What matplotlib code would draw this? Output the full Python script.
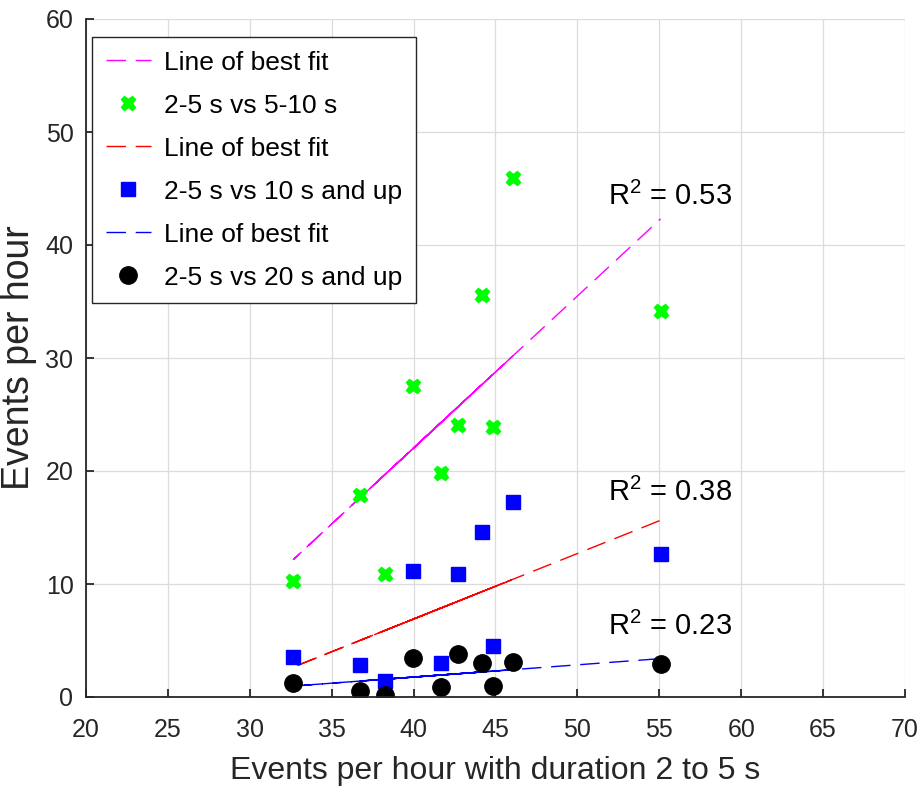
import matplotlib
matplotlib.use('Agg')
import matplotlib.pyplot as plt
import numpy as np

# events per hour, duration 2-5 s (shared x for all three series)
x_short = [44.85, 38.25, 46.05, 32.66, 42.69, 36.73, 41.65, 44.18, 39.94, 55.08]
# 5-10 s
y_5_10 = [23.92, 10.88, 45.90, 10.27, 24.07, 17.88, 19.85, 35.58, 27.52, 34.19]
# 10 s and up
y_10_up = [4.54, 1.44, 17.23, 3.51, 10.86, 2.83, 2.98, 14.63, 11.15, 12.65]
# 20 s and up
y_20_up = [0.97, 0.18, 3.10, 1.21, 3.80, 0.56, 0.86, 2.98, 3.45, 2.92]

r2_labels = ['0.53', '0.38', '0.23']
r2_pos = [(51.87, 43.5), (51.87, 17.35), (51.87, 5.5)]

narrow = ['Liberation Sans Narrow', 'Liberation Sans', 'DejaVu Sans']
regular = ['Liberation Sans', 'DejaVu Sans']
plt.rcParams['font.family'] = regular
plt.rcParams['mathtext.fontset'] = 'custom'
plt.rcParams['mathtext.rm'] = 'Liberation Sans'
plt.rcParams['mathtext.it'] = 'Liberation Sans'

dark = '#262626'

fig = plt.figure(figsize=(9.19, 7.92), dpi=100)
ax = fig.add_axes([86/919, 1 - 697/792, (905 - 86)/919, (697 - 19)/792])

x = np.array(x_short)
series = [
    (y_5_10, '#ff00ff', dict(marker='X', color='#00ff00', ms=10.5, mec='#00ff00'), '2-5 s vs 5-10 s'),
    (y_10_up, '#ff0000', dict(marker='s', color='#0000ff', ms=9.5, mec='#0000ff'), '2-5 s vs 10 s and up'),
    (y_20_up, '#0000ff', dict(marker='o', color='k', ms=12.5, mec='k'), '2-5 s vs 20 s and up'),
]

for ys, fit_col, mk, lab in series:
    y = np.array(ys)
    p = np.polyfit(x, y, 1)
    # fit evaluated at data x in the original (unsorted) order
    ax.plot(x, np.polyval(p, x), color=fit_col, lw=1.0, dashes=(14, 7), label='Line of best fit')
    ax.plot(x, y, ls='none', label=lab, **mk)

for lab, (tx, ty) in zip(r2_labels, r2_pos):
    ax.text(tx, ty, r'R$^2$ = ' + lab, fontsize=21, va='baseline', ha='left', color='k')

ax.set_xlim(20, 70)
ax.set_ylim(0, 60)
ax.set_xticks(np.arange(20, 71, 5))
ax.set_yticks(np.arange(0, 61, 10))
ax.grid(True, color='#dcdcdc', lw=0.9)
ax.set_axisbelow(True)
for s in ['top', 'right']:
    ax.spines[s].set_visible(False)
for s in ['left', 'bottom']:
    ax.spines[s].set_color(dark)
    ax.spines[s].set_linewidth(1.3)
ax.tick_params(direction='in', length=6, width=1.3, color=dark, labelcolor=dark, labelsize=18)
ax.tick_params(axis='x', pad=15)
ax.tick_params(axis='y', pad=9)
for t in ax.get_xticklabels() + ax.get_yticklabels():
    t.set_family(narrow)

ax.set_xlabel('Events per hour with duration 2 to 5 s', fontsize=23, color=dark, labelpad=10)
ax.set_ylabel('Events per hour', fontsize=27, color=dark, labelpad=6)

leg = ax.legend(loc='upper left', bbox_to_anchor=(6/819, 1 - 18/678), borderaxespad=0,
                fontsize=19, fancybox=False, framealpha=1, edgecolor=dark,
                handlelength=1.7, handletextpad=0.5, labelspacing=0.72, borderpad=0.52,
                numpoints=1)
leg.get_frame().set_linewidth(1.0)

fig.savefig('out.png', dpi=100)
